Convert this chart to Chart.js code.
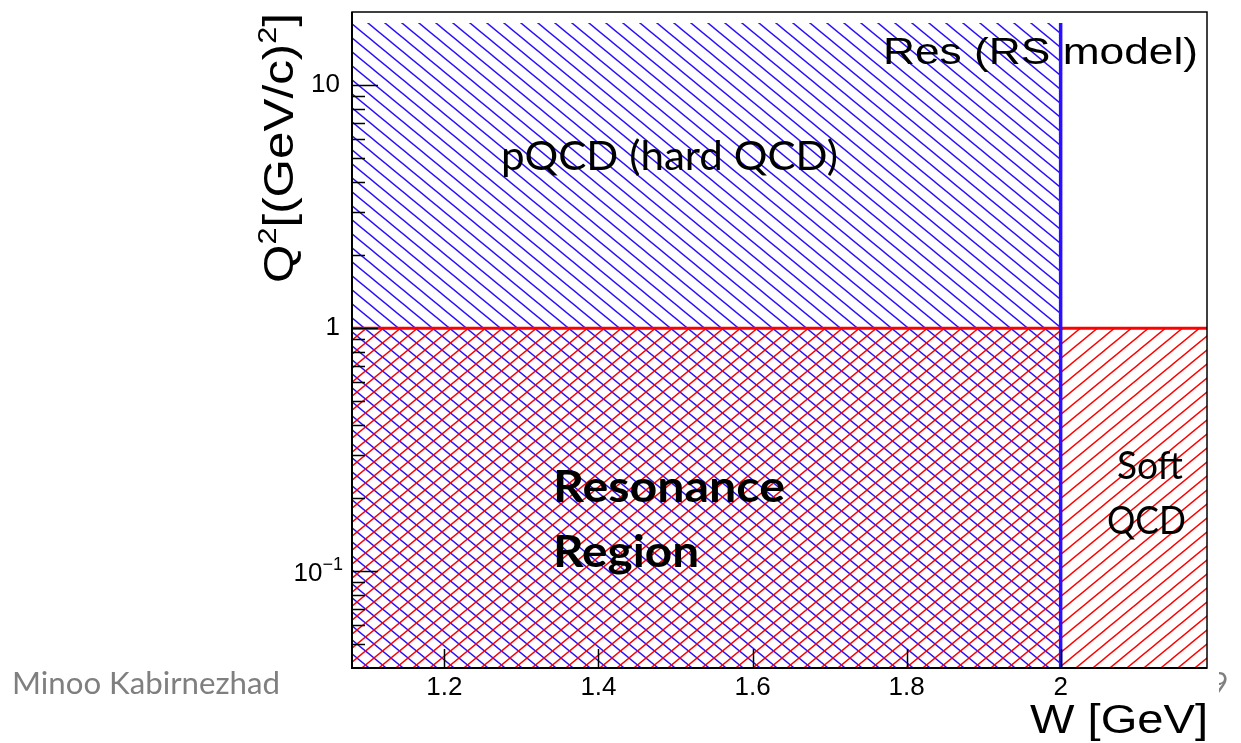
<!DOCTYPE html>
<html>
<head>
<meta charset="utf-8">
<script src="https://cdn.jsdelivr.net/npm/chart.js@4/dist/chart.umd.min.js"></script>
<style>
  html, body { margin: 0; padding: 0; background: #fff; }
  #wrap { width: 1241px; height: 743px; position: relative; }
</style>
</head>
<body>
<div id="wrap"><canvas id="phaseSpace" width="1241" height="743"></canvas></div>
<script>
// kinematic plane: W [GeV] vs Q^2 [(GeV/c)^2]
const W_RANGE = [1.08, 2.19];
const Q2_RANGE = [0.04, 20];

const W_TICKS = [1.2, 1.4, 1.6, 1.8, 2.0];
const W_TICK_LABELS = ["1.2", "1.4", "1.6", "1.8", "2"];

const Q2_MAJOR = [0.1, 1, 10];
const Q2_MAJOR_LABELS = [["10", "\u22121"], ["1", ""], ["10", ""]];
const Q2_MINOR = [0.05, 0.06, 0.07, 0.08, 0.09, 0.2, 0.3, 0.4, 0.5, 0.6, 0.7, 0.8, 0.9,
                  2, 3, 4, 5, 6, 7, 8, 9];

// region boundaries
const W_RES_EDGE = 2.0;      // end of the resonance (RS model) region
const Q2_HARD_EDGE = 1;      // above: pQCD, below: resonance / soft QCD
const Q2_PQCD_TOP = 18;

const BLUE = "#2a10ff";
const RED = "#ff0000";
const ROOT_FONT = "'Liberation Sans', Arial, sans-serif";
const SLIDE_FONT = "Lato, 'Open Sans', sans-serif";

function hatchPattern(color, dir) {
  const w = 17, h = 14;
  const c = document.createElement("canvas");
  c.width = w;
  c.height = h;
  const g = c.getContext("2d");
  g.strokeStyle = color;
  g.lineWidth = 1.4;
  g.beginPath();
  for (let n = -1; n <= 1; n++) {
    if (dir > 0) {
      // "/" lines
      g.moveTo(n * w - w, h * 2);
      g.lineTo(n * w + w * 2, -h);
    } else {
      // "\" lines
      g.moveTo(n * w - w, -h);
      g.lineTo(n * w + w * 2, h * 2);
    }
  }
  g.stroke();
  return g.createPattern(c, "repeat");
}

// draw text squeezed/stretched horizontally to a given width
function fitText(ctx, text, x, y, width) {
  const w = ctx.measureText(text).width;
  ctx.save();
  ctx.translate(x, y);
  ctx.scale(width / w, 1);
  ctx.fillText(text, 0, 0);
  ctx.restore();
}

const framePlugin = {
  id: "rootFrame",
  afterDatasetsDraw(chart) {
    const ctx = chart.ctx;
    const { left, right, top, bottom } = chart.chartArea;
    const xs = chart.scales.x;
    const ys = chart.scales.y;
    ctx.save();

    // frame
    ctx.strokeStyle = "#000";
    ctx.lineWidth = 1.5;
    ctx.strokeRect(left, top, right - left, bottom - top);
    ctx.lineWidth = 2;
    ctx.beginPath();
    ctx.moveTo(left, top);
    ctx.lineTo(left, bottom);
    ctx.lineTo(right, bottom);
    ctx.stroke();

    // ticks inside the frame
    ctx.lineWidth = 1.5;
    ctx.beginPath();
    for (const v of Q2_MAJOR) {
      const y = Math.round(ys.getPixelForValue(v)) + 0.5;
      ctx.moveTo(left, y);
      ctx.lineTo(left + 26, y);
    }
    for (const v of Q2_MINOR) {
      const y = Math.round(ys.getPixelForValue(v)) + 0.5;
      ctx.moveTo(left, y);
      ctx.lineTo(left + 13, y);
    }
    for (const v of W_TICKS) {
      const x = Math.round(xs.getPixelForValue(v)) + 0.5;
      ctx.moveTo(x, bottom);
      ctx.lineTo(x, bottom - 19);
    }
    ctx.stroke();

    // tick labels
    ctx.fillStyle = "#000";
    ctx.font = "26px " + ROOT_FONT;
    ctx.textBaseline = "middle";
    ctx.textAlign = "center";
    W_TICKS.forEach((v, i) => {
      ctx.fillText(W_TICK_LABELS[i], xs.getPixelForValue(v), bottom + 20);
    });
    Q2_MAJOR.forEach((v, i) => {
      const [base, exp] = Q2_MAJOR_LABELS[i];
      const y = ys.getPixelForValue(v);
      ctx.textAlign = "right";
      if (exp) {
        ctx.font = "18px " + ROOT_FONT;
        const ew = ctx.measureText(exp).width;
        ctx.fillText(exp, left - 9, y - 6);
        ctx.font = "26px " + ROOT_FONT;
        ctx.fillText(base, left - 9 - ew, y + 3);
      } else {
        ctx.font = "26px " + ROOT_FONT;
        ctx.fillText(base, left - 12, y);
      }
    });

    // axis titles
    ctx.textBaseline = "alphabetic";
    ctx.textAlign = "left";
    ctx.font = "40px " + ROOT_FONT;
    fitText(ctx, "W [GeV]", 1030, 733, 178);

    ctx.save();
    ctx.translate(293, top + 1);
    ctx.rotate(-Math.PI / 2);
    const parts = [["Q", 0], ["2", 1], ["[(GeV/c)", 0], ["2", 1], ["]", 0]];
    let total = 0;
    for (const [t, sup] of parts) {
      ctx.font = (sup ? "26px " : "42px ") + ROOT_FONT;
      total += ctx.measureText(t).width;
    }
    const span = 270;
    ctx.scale(span / total, 1);
    let x = -total;
    for (const [t, sup] of parts) {
      ctx.font = (sup ? "26px " : "42px ") + ROOT_FONT;
      ctx.fillText(t, x, sup ? -17 : 0);
      x += ctx.measureText(t).width;
    }
    ctx.restore();

    ctx.restore();
  },
  afterDraw(chart) {
    const ctx = chart.ctx;
    ctx.save();
    ctx.fillStyle = "#000";
    ctx.textBaseline = "alphabetic";
    ctx.textAlign = "left";

    ctx.font = "36px " + ROOT_FONT;
    fitText(ctx, "Res (RS model)", 883, 64, 315);

    ctx.font = "40px " + SLIDE_FONT;
    fitText(ctx, "pQCD (hard QCD)", 501, 170, 337);
    ctx.font = "38px " + SLIDE_FONT;
    fitText(ctx, "Soft", 1117, 479, 66);
    fitText(ctx, "QCD", 1107, 534, 79);

    ctx.font = "bold 44px " + SLIDE_FONT;
    fitText(ctx, "Resonance", 553, 502, 232);
    fitText(ctx, "Region", 553, 567, 146);

    // slide footer
    ctx.fillStyle = "#7f7f7f";
    ctx.font = "30px " + SLIDE_FONT;
    fitText(ctx, "Minoo Kabirnezhad", 12, 694, 268);
    ctx.beginPath();
    ctx.rect(1219, 640, 30, 80);
    ctx.clip();
    ctx.font = "30px " + SLIDE_FONT;
    ctx.fillText("9", 1211, 694);
    ctx.restore();
  }
};

const canvas = document.getElementById("phaseSpace");

new Chart(canvas, {
  type: "scatter",
  data: {
    datasets: [
      {
        label: "RS model edge",
        data: [{ x: W_RES_EDGE, y: Q2_RANGE[0] }, { x: W_RES_EDGE, y: Q2_PQCD_TOP }],
        showLine: true,
        borderColor: BLUE,
        borderWidth: 3.5,
        pointRadius: 0,
        fill: false,
        order: 0,
      },
      {
        label: "Q2 < 1",
        data: [{ x: W_RANGE[0], y: Q2_HARD_EDGE }, { x: W_RANGE[1], y: Q2_HARD_EDGE }],
        showLine: true,
        borderColor: RED,
        borderWidth: 3,
        backgroundColor: hatchPattern(RED, 1),
        pointRadius: 0,
        fill: "start",
        order: 1,
      },
      {
        label: "pQCD",
        data: [{ x: W_RANGE[0], y: Q2_PQCD_TOP }, { x: W_RES_EDGE, y: Q2_PQCD_TOP }],
        showLine: true,
        borderWidth: 0,
        borderColor: "rgba(0,0,0,0)",
        backgroundColor: hatchPattern(BLUE, -1),
        pointRadius: 0,
        fill: "start",
        order: 2,
      },
    ],
  },
  options: {
    responsive: false,
    animation: false,
    devicePixelRatio: 1,
    layout: { padding: { left: 352, top: 12, right: 34, bottom: 75 } },
    plugins: {
      legend: { display: false },
      tooltip: { enabled: false },
    },
    scales: {
      x: { type: "linear", min: W_RANGE[0], max: W_RANGE[1], display: false },
      y: { type: "logarithmic", min: Q2_RANGE[0], max: Q2_RANGE[1], display: false },
    },
  },
  plugins: [framePlugin],
});
</script>
</body>
</html>
